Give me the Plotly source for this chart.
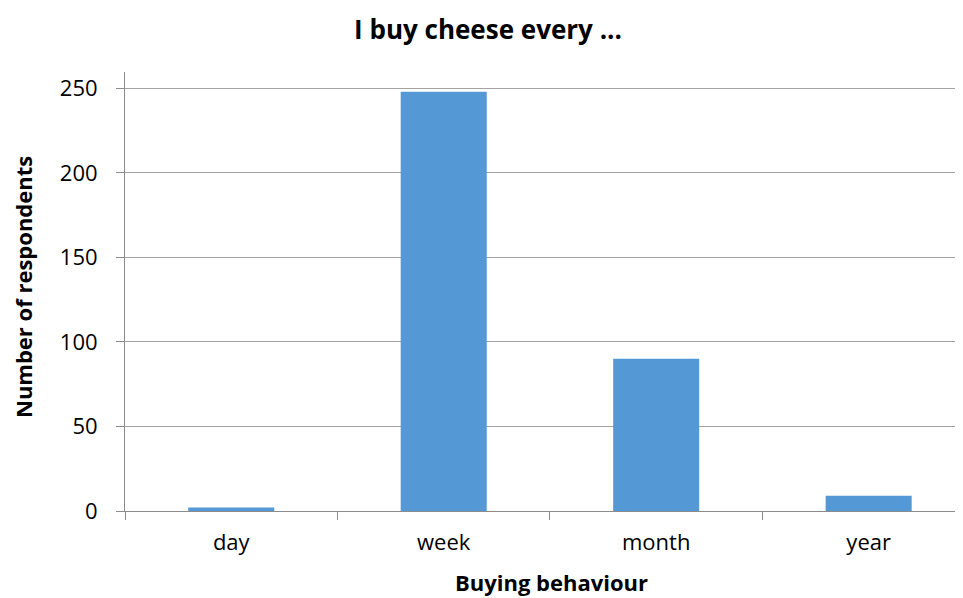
import plotly.graph_objects as go

categories = ["day", "week", "month", "year"]
respondents = [2, 248, 90, 9]
y_ticks = [0, 50, 100, 150, 200, 250]

FONT = "Open Sans"
W, H = 955, 590
L, R, T, B = 117, 0, 64, 87
PW, PH = W - L - R, H - T - B

fig = go.Figure()
fig.add_trace(go.Bar(
    x=categories, y=respondents, width=0.405,
    marker=dict(color="#5499D6", line=dict(width=0)),
))

fig.update_layout(
    width=W, height=H,
    margin=dict(l=L, r=R, t=T, b=B),
    paper_bgcolor="white", plot_bgcolor="white",
    showlegend=False,
    font=dict(family=FONT, size=22, color="#000000"),
    title=dict(text="<b>I buy cheese every ...</b>", x=480 / W, xref="container",
               xanchor="center", y=1 - 22 / H, yref="container", yanchor="middle",
               font=dict(family=FONT, size=26, color="#000000")),
    annotations=[
        dict(text="<b>Buying behaviour</b>", xref="paper", yref="paper",
             x=(543 - L) / PW, y=(H - B - 574) / PH, xanchor="center", yanchor="middle",
             showarrow=False, font=dict(family=FONT, size=22, color="#000000")),
        dict(text="<b>Number of respondents</b>", xref="paper", yref="paper",
             x=(15 - L) / PW, y=(H - B - 279) / PH, xanchor="center", yanchor="middle",
             textangle=-90, showarrow=False,
             font=dict(family=FONT, size=22, color="#000000")),
    ],
)

fig.update_xaxes(
    type="category", range=[-0.5, 3.444],
    tickson="boundaries", ticks="outside", ticklen=8, tickcolor="#8C8C8C",
    showline=True, linecolor="#8C8C8C", linewidth=1,
    showgrid=False, zeroline=False,
    tickfont=dict(family=FONT, size=22),
    ticklabelstandoff=12,
)
fig.update_yaxes(
    range=[0, 259.7], tickvals=y_ticks,
    ticks="outside", ticklen=8, tickcolor="#8C8C8C",
    showline=True, linecolor="#8C8C8C", linewidth=1,
    showgrid=True, gridcolor="#A3A3A3", gridwidth=1, zeroline=False,
    tickfont=dict(family=FONT, size=22),
    ticklabelstandoff=14,
)

fig.write_html("out.html")
